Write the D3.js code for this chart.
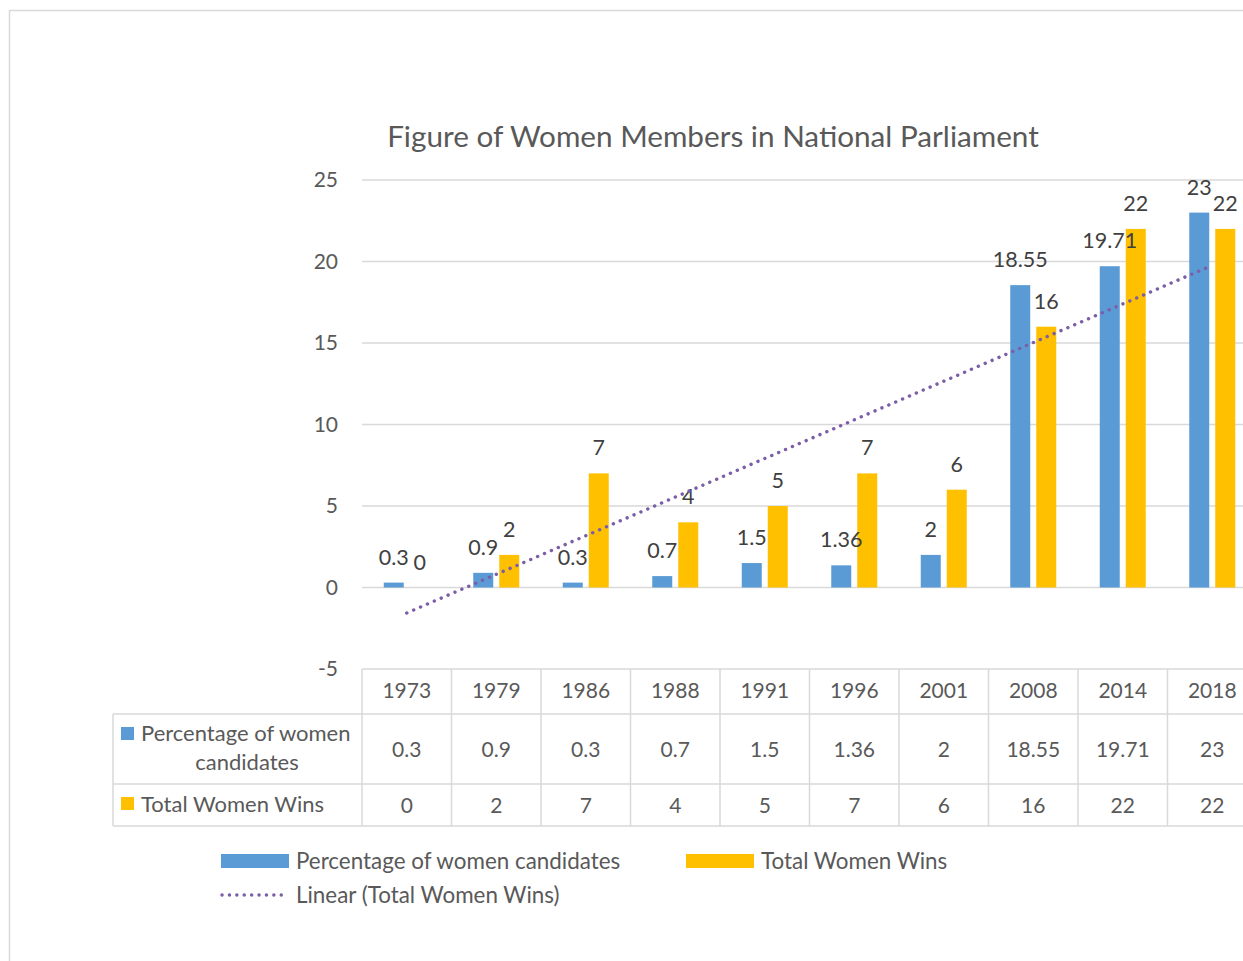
<!DOCTYPE html>
<html>
<head>
<meta charset="utf-8">
<script src="https://cdn.jsdelivr.net/npm/d3@7"></script>
<style>
  html, body { margin: 0; padding: 0; background: #fff; }
  svg { display: block; font-family: Lato, "Open Sans", sans-serif; }
</style>
</head>
<body>
<svg id="chart" width="1243" height="961"></svg>
<script>
// Election years and the two series
const years = ["1973", "1979", "1986", "1988", "1991", "1996", "2001", "2008", "2014", "2018"];
const pctCandidates = [0.3, 0.9, 0.3, 0.7, 1.5, 1.36, 2, 18.55, 19.71, 23];
const totalWins = [0, 2, 7, 4, 5, 7, 6, 16, 22, 22];
const pctLabels = ["0.3", "0.9", "0.3", "0.7", "1.5", "1.36", "2", "18.55", "19.71", "23"];
const winLabels = ["0", "2", "7", "4", "5", "7", "6", "16", "22", "22"];
const yTicks = [-5, 0, 5, 10, 15, 20, 25];
const seriesNames = ["Percentage of women candidates", "Total Women Wins"];
const trendName = "Linear (Total Women Wins)";
const title = "Figure of Women Members in National Parliament";

const BLUE = "#5b9bd5", GOLD = "#ffc000", TREND = "#7b5ea7";
const GRID = "#d9d9d9", TEXT = "#595959", LABEL = "#404040";

const svg = d3.select("#chart");

// chart frame
svg.append("rect").attr("x", 9.5).attr("y", 10.5).attr("width", 1260).attr("height", 1000)
  .attr("fill", "#fff").attr("stroke", GRID).attr("stroke-width", 1.5);

const plotLeft = 362, plotRight = 1257;
const x = d3.scaleBand().domain(years).range([plotLeft, plotRight]);
const y = d3.scaleLinear().domain([-5, 25]).range([669, 180]);

// title
svg.append("text").attr("x", 713).attr("y", 147).attr("text-anchor", "middle")
  .attr("fill", TEXT).attr("font-size", 29.7).text(title);

// gridlines
svg.append("g").selectAll("line").data(yTicks.filter(d => d >= 0)).join("line")
  .attr("x1", plotLeft).attr("x2", 1243)
  .attr("y1", d => y(d)).attr("y2", d => y(d))
  .attr("stroke", GRID).attr("stroke-width", 1.5);

// y-axis labels
const yAxis = d3.axisLeft(y).tickValues(yTicks).tickSize(0).tickPadding(0).tickFormat(d => String(d));
const gy = svg.append("g").attr("transform", `translate(338,0)`).call(yAxis);
gy.select(".domain").remove();
gy.selectAll("text").attr("fill", TEXT).attr("font-size", 21).attr("font-family", "Lato, sans-serif");

// bars
const barW = 20, gap = 6;
const groups = svg.append("g").selectAll("g").data(years).join("g")
  .attr("transform", d => `translate(${x(d) + x.bandwidth() / 2},0)`);

groups.append("rect")
  .attr("x", -barW - gap / 2).attr("width", barW)
  .attr("y", (d, i) => y(pctCandidates[i]))
  .attr("height", (d, i) => y(0) - y(pctCandidates[i]))
  .attr("fill", BLUE);
groups.append("rect")
  .attr("x", gap / 2).attr("width", barW)
  .attr("y", (d, i) => y(totalWins[i]))
  .attr("height", (d, i) => y(0) - y(totalWins[i]))
  .attr("fill", GOLD);

// linear trend of total wins (least squares over category index)
const n = totalWins.length;
const xs = d3.range(1, n + 1);
const mx = d3.mean(xs), my = d3.mean(totalWins);
const slope = d3.sum(xs, (v, i) => (v - mx) * (totalWins[i] - my)) / d3.sum(xs, v => (v - mx) ** 2);
const intercept = my - slope * mx;
const trendPts = [0, n - 1].map(i => [x(years[i]) + x.bandwidth() / 2, y(intercept + slope * (i + 1))]);
svg.append("path").attr("d", d3.line()(trendPts))
  .attr("fill", "none").attr("stroke", TREND).attr("stroke-width", 3.4)
  .attr("stroke-linecap", "round").attr("stroke-dasharray", "0.1 7.4");

// data labels
groups.append("text").attr("x", -barW / 2 - gap / 2).attr("y", (d, i) => y(pctCandidates[i]) - 18)
  .attr("text-anchor", "middle").attr("fill", LABEL).attr("font-size", 21.5)
  .text((d, i) => pctLabels[i]);
groups.append("text").attr("x", barW / 2 + gap / 2).attr("y", (d, i) => y(totalWins[i]) - 18)
  .attr("text-anchor", "middle").attr("fill", LABEL).attr("font-size", 21.5)
  .text((d, i) => winLabels[i]);

// data table
const tTop = 669, r1 = 714, r2 = 784, tBot = 826, tLeft = 113;
const table = svg.append("g").attr("stroke", GRID).attr("stroke-width", 1.5);
table.append("line").attr("x1", plotLeft).attr("x2", 1243).attr("y1", tTop).attr("y2", tTop);
[r1, r2, tBot].forEach(v => table.append("line").attr("x1", tLeft).attr("x2", 1243).attr("y1", v).attr("y2", v));
table.append("line").attr("x1", tLeft).attr("x2", tLeft).attr("y1", r1).attr("y2", tBot);
years.forEach(yr => table.append("line").attr("x1", x(yr)).attr("x2", x(yr)).attr("y1", tTop).attr("y2", tBot));
table.append("line").attr("x1", plotRight).attr("x2", plotRight).attr("y1", tTop).attr("y2", tBot);

const cells = svg.append("g").attr("fill", TEXT).attr("font-size", 21).attr("text-anchor", "middle");
years.forEach((yr, i) => {
  const cx = x(yr) + x.bandwidth() / 2;
  cells.append("text").attr("x", cx).attr("y", 698).text(yr);
  cells.append("text").attr("x", cx).attr("y", 757).text(pctLabels[i]);
  cells.append("text").attr("x", cx).attr("y", 813).text(winLabels[i]);
});

// row headers
svg.append("rect").attr("x", 121).attr("y", 727).attr("width", 13).attr("height", 13).attr("fill", BLUE);
svg.append("text").attr("x", 141).attr("y", 741).attr("fill", TEXT).attr("font-size", 22).text("Percentage of women");
svg.append("text").attr("x", 247).attr("y", 770).attr("text-anchor", "middle").attr("fill", TEXT).attr("font-size", 22).text("candidates");
svg.append("rect").attr("x", 121).attr("y", 797).attr("width", 13).attr("height", 13).attr("fill", GOLD);
svg.append("text").attr("x", 141).attr("y", 812).attr("fill", TEXT).attr("font-size", 22).text(seriesNames[1]);

// legend
const leg = svg.append("g").attr("fill", TEXT).attr("font-size", 22.4);
leg.append("rect").attr("x", 221).attr("y", 854).attr("width", 68).attr("height", 14).attr("fill", BLUE);
leg.append("text").attr("x", 296).attr("y", 869).text(seriesNames[0]);
leg.append("rect").attr("x", 686).attr("y", 854).attr("width", 68).attr("height", 14).attr("fill", GOLD);
leg.append("text").attr("x", 761).attr("y", 869).text(seriesNames[1]);
leg.append("path").attr("d", d3.line()([[222, 895], [288, 895]]))
  .attr("fill", "none").attr("stroke", TREND).attr("stroke-width", 3.4)
  .attr("stroke-linecap", "round").attr("stroke-dasharray", "0.1 7.3");
leg.append("text").attr("x", 296).attr("y", 903).text(trendName);
</script>
</body>
</html>
